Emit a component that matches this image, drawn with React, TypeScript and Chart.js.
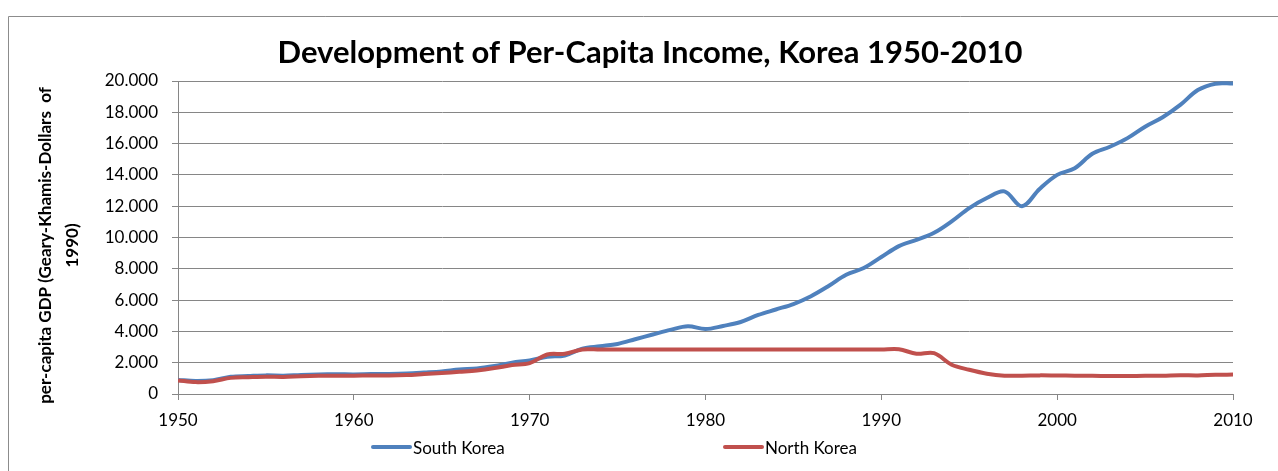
import React, { useEffect, useRef } from 'react';
import { Chart, registerables } from 'chart.js';

Chart.register(...registerables);

const years = [
  1950, 1951, 1952, 1953, 1954, 1955, 1956, 1957, 1958, 1959,
  1960, 1961, 1962, 1963, 1964, 1965, 1966, 1967, 1968, 1969,
  1970, 1971, 1972, 1973, 1974, 1975, 1976, 1977, 1978, 1979,
  1980, 1981, 1982, 1983, 1984, 1985, 1986, 1987, 1988, 1989,
  1990, 1991, 1992, 1993, 1994, 1995, 1996, 1997, 1998, 1999,
  2000, 2001, 2002, 2003, 2004, 2005, 2006, 2007, 2008, 2009,
  2010,
];

const southKorea = [
  900, 830, 880, 1100, 1150, 1190, 1170, 1220, 1250, 1260,
  1250, 1270, 1280, 1310, 1370, 1440, 1560, 1630, 1790, 2000,
  2150, 2380, 2460, 2900, 3050, 3200, 3500, 3800, 4100, 4330,
  4150, 4350, 4600, 5050, 5400, 5750, 6250, 6900, 7620, 8050,
  8750, 9450, 9850, 10300, 11030, 11880, 12520, 12950, 12000, 13100,
  14000, 14430, 15350, 15800, 16350, 17080, 17680, 18470, 19420, 19830,
  19840,
];

const northKorea = [
  870, 760, 820, 1030, 1070, 1100, 1090, 1130, 1160, 1170,
  1170, 1180, 1180, 1210, 1275, 1340, 1420, 1505, 1655, 1850,
  1975, 2525, 2570, 2850, 2840, 2840, 2840, 2840, 2840, 2840,
  2840, 2840, 2840, 2840, 2840, 2840, 2840, 2840, 2840, 2840,
  2840, 2860, 2570, 2610, 1870, 1550, 1300, 1170, 1170, 1190,
  1180, 1170, 1160, 1150, 1150, 1160, 1170, 1200, 1190, 1230,
  1240,
];

const xTicks = [1950, 1960, 1970, 1980, 1990, 2000, 2010];
const yTicks = [0, 2000, 4000, 6000, 8000, 10000, 12000, 14000, 16000, 18000, 20000];
const seriesNames = ['South Korea', 'North Korea'];
const seriesColors = ['#4F81BD', '#C0504D'];
const chartTitle = 'Development of Per-Capita Income, Korea 1950-2010';
const yAxisTitle = ['per-capita GDP (Geary-Khamis-Dollars  of', '1990)'];

const FONT = 'Lato, "Open Sans", sans-serif';
const GRAY = '#868686';

function formatThousands(v: number): string {
  if (v === 0) return '0';
  const th = Math.floor(v / 1000);
  const rest = Math.round(v % 1000);
  return `${th}.${String(rest).padStart(3, '0')}`;
}

const decor = {
  id: 'decor',
  beforeDraw(chart: any) {
    const { ctx, width, height } = chart;
    ctx.save();
    ctx.fillStyle = '#ffffff';
    ctx.fillRect(0, 0, width, height);
    ctx.strokeStyle = '#8c8c8c';
    ctx.lineWidth = 1;
    ctx.beginPath();
    ctx.moveTo(8.5, height);
    ctx.lineTo(8.5, 16.5);
    ctx.lineTo(width, 16.5);
    ctx.stroke();
    ctx.restore();
  },
  afterDraw(chart: any) {
    const { ctx, chartArea } = chart;
    ctx.save();
    // title
    ctx.fillStyle = '#000';
    ctx.font = `bold 31px ${FONT}`;
    ctx.textAlign = 'center';
    ctx.textBaseline = 'alphabetic';
    ctx.fillText(chartTitle, 650, 63);

    // y axis title
    const midY = (chartArea.top + chartArea.bottom) / 2 + 8;
    ctx.font = `bold 17px ${FONT}`;
    ctx.textBaseline = 'middle';
    const xs = [46, 73];
    yAxisTitle.forEach((line, i) => {
      ctx.save();
      ctx.translate(xs[i], midY);
      ctx.rotate(-Math.PI / 2);
      ctx.fillText(line, 0, 0);
      ctx.restore();
    });

    // legend
    const legendY = 448;
    const starts = [chartArea.left + 195, chartArea.left + 547];
    ctx.font = `17px ${FONT}`;
    ctx.textAlign = 'left';
    ctx.textBaseline = 'middle';
    seriesNames.forEach((name, i) => {
      const x0 = starts[i];
      ctx.strokeStyle = seriesColors[i];
      ctx.lineWidth = 4;
      ctx.lineCap = 'round';
      ctx.beginPath();
      ctx.moveTo(x0, legendY - 1);
      ctx.lineTo(x0 + 37, legendY - 1);
      ctx.stroke();
      ctx.fillStyle = '#000';
      ctx.fillText(name, x0 + 40, legendY + 1);
    });
    ctx.restore();
  },
};

export default function App() {
  const ref = useRef<HTMLCanvasElement>(null);

  useEffect(() => {
    const canvas = ref.current;
    if (!canvas) return;
    const chart = new Chart(canvas, {
      type: 'line',
      data: {
        datasets: [
          {
            label: seriesNames[1],
            data: years.map((x, i) => ({ x, y: northKorea[i] })),
            borderColor: seriesColors[1],
            backgroundColor: seriesColors[1],
            borderWidth: 4,
            pointRadius: 0,
            tension: 0.35,
            order: 0,
          },
          {
            label: seriesNames[0],
            data: years.map((x, i) => ({ x, y: southKorea[i] })),
            borderColor: seriesColors[0],
            backgroundColor: seriesColors[0],
            borderWidth: 4,
            pointRadius: 0,
            tension: 0.35,
            order: 1,
          },
        ],
      },
      options: {
        responsive: false,
        animation: false,
        layout: { padding: { left: 0, top: 81, right: 45, bottom: 0 } },
        plugins: {
          legend: { display: false },
          tooltip: { enabled: false },
          title: { display: false },
        },
        scales: {
          x: {
            type: 'linear',
            min: 1950,
            max: 2010,
            afterFit: (s: any) => { s.height = 77; },
            afterBuildTicks: (s: any) => { s.ticks = xTicks.map((v) => ({ value: v })); },
            grid: { drawOnChartArea: false, color: GRAY, tickLength: 6 },
            border: { color: GRAY },
            ticks: {
              font: { family: FONT, size: 17 },
              color: '#000',
              padding: 10,
              maxRotation: 0,
              callback: (v: any) => String(v),
            },
          },
          y: {
            type: 'linear',
            min: 0,
            max: 20000,
            afterFit: (s: any) => { s.width = 178; },
            afterBuildTicks: (s: any) => { s.ticks = yTicks.map((v) => ({ value: v })); },
            grid: { color: GRAY, tickLength: 6 },
            border: { color: GRAY },
            ticks: {
              font: { family: FONT, size: 17 },
              color: '#000',
              padding: 14,
              callback: (v: any) => formatThousands(Number(v)),
            },
          },
        },
      },
      plugins: [decor],
    });
    return () => chart.destroy();
  }, []);

  return (
    <div style={{ position: 'fixed', left: 0, top: 0, width: 1278, height: 471, background: '#fff' }}>
      <canvas ref={ref} width={1278} height={471} style={{ display: 'block' }} />
    </div>
  );
}
